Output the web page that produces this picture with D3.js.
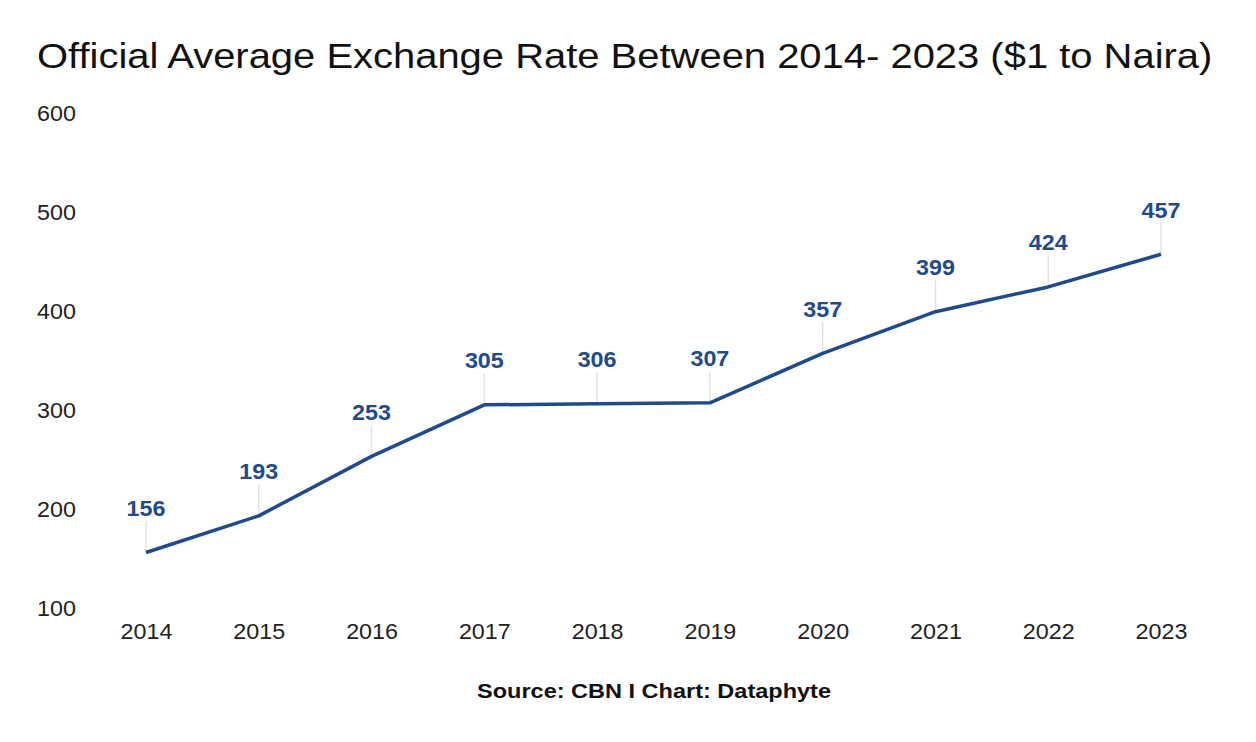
<!DOCTYPE html>
<html><head><meta charset="utf-8">
<script src="https://cdn.jsdelivr.net/npm/d3@7"></script>
<style>
body{margin:0;background:#fff;}
text{font-family:"Liberation Sans",Arial,sans-serif;}
</style></head>
<body>
<svg id="chart" width="1256" height="742"></svg>
<script>
const years = ["2014","2015","2016","2017","2018","2019","2020","2021","2022","2023"];
const rates = [156,193,253,305,306,307,357,399,424,457];
const yTicks = [100,200,300,400,500,600];
const titleText = "Official Average Exchange Rate Between 2014- 2023 ($1 to Naira)";
const sourceText = "Source: CBN I Chart: Dataphyte";

const svg = d3.select("#chart");
const W = 1256, H = 742;
svg.append("rect").attr("width",W).attr("height",H).attr("fill","#fff");

const x = d3.scalePoint().domain(years).range([146,1161]);
const y = d3.scaleLinear().domain([100,600]).range([608,112.5]);
const color = "#1f4a8c";
const ff = "Liberation Sans, Arial, sans-serif";

svg.append("text").attr("transform","translate(37,68) scale(1.11,1)")
  .attr("font-size",36).attr("fill","#111").text(titleText);

// y axis
const yAxis = d3.axisLeft(y).tickValues(yTicks).tickSize(0).tickPadding(0);
const gy = svg.append("g").attr("transform","translate(76,0)").call(yAxis);
gy.select(".domain").remove();
gy.selectAll("text").attr("font-size",22).attr("fill","#222").attr("font-family",ff)
  .attr("dy","0.35em").attr("transform","scale(1.06,1)");

// x axis
const xAxis = d3.axisBottom(x).tickSize(0).tickPadding(0);
const gx = svg.append("g").attr("transform","translate(0,623.5)").call(xAxis);
gx.select(".domain").remove();
gx.selectAll("text").attr("font-size",22).attr("fill","#222").attr("font-family",ff)
  .attr("transform","scale(1.06,1)");

const data = years.map((yr,i)=>({yr, v:rates[i]}));

// leader lines
svg.append("g").selectAll("line").data(data).join("line")
  .attr("x1",d=>x(d.yr)).attr("x2",d=>x(d.yr))
  .attr("y1",d=>y(d.v)).attr("y2",d=>y(d.v)-31.5)
  .attr("stroke","#e3e3e3").attr("stroke-width",1.5);

// line
svg.append("path").datum(data)
  .attr("d", d3.line().x(d=>x(d.yr)).y(d=>y(d.v)))
  .attr("fill","none").attr("stroke",color).attr("stroke-width",3.5)
  .attr("stroke-linejoin","round");

// labels
svg.append("g").selectAll("text").data(data).join("text")
  .attr("transform",d=>`translate(${x(d.yr)},${y(d.v)-36.5}) scale(1.06,1)`)
  .attr("text-anchor","middle").attr("font-size",22).attr("font-weight","bold")
  .attr("fill",color).text(d=>d.v);

svg.append("text").attr("transform","translate(654,698) scale(1.12,1)").attr("text-anchor","middle")
  .attr("font-size",21).attr("font-weight","bold").attr("fill","#111").text(sourceText);
</script>
</body></html>
